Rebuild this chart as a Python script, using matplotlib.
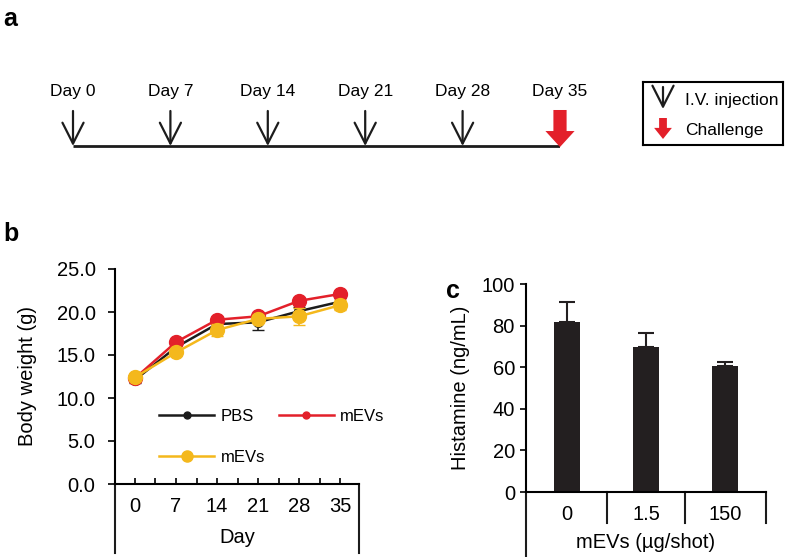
import matplotlib
matplotlib.use("Agg")
import matplotlib.pyplot as plt
from matplotlib.lines import Line2D

plt.rcParams["font.family"] = ["Liberation Sans", "DejaVu Sans"]

# panel a: schedule
schedule_days = [0, 7, 14, 21, 28, 35]
schedule_labels = ["Day 0", "Day 7", "Day 14", "Day 21", "Day 28", "Day 35"]

# panel b: body weight (g)
days = [0, 7, 14, 21, 28, 35]
pbs = [12.1, 15.9, 18.6, 18.8, 20.1, 21.2]
pbs_err = [0.3, 0.3, 0.4, 0.9, 0.5, 0.4]
mevs_red = [12.3, 16.5, 19.1, 19.5, 21.3, 22.1]
mevs_red_err = [0.2, 0.2, 0.3, 0.3, 0.3, 0.3]
mevs_yel = [12.4, 15.3, 17.9, 19.2, 19.5, 20.8]
mevs_yel_err = [0.3, 0.3, 0.7, 0.5, 1.0, 0.6]

# panel c: histamine (ng/mL)
doses = ["0", "1.5", "150"]
histamine = [81.7, 69.7, 60.6]
histamine_err = [9.6, 6.7, 1.9]

RED = "#e3202a"
YEL = "#f4b81c"
BLK = "#1c1c1c"

fig = plt.figure(figsize=(8, 5.57), dpi=100)

fig.text(0.004, 0.966, "a", fontsize=18, fontweight="bold", va="center")
fig.text(0.004, 0.580, "b", fontsize=18, fontweight="bold", va="center")
fig.text(0.558, 0.477, "c", fontsize=18, fontweight="bold", va="center")

# ---- panel a: timeline
ax_a = fig.add_axes([0.09125, 0.7307, 0.60875, 0.1257])
ax_a.set_xlim(0, 35)
ax_a.set_ylim(150, 80)
ax_a.axis("off")
ax_a.plot([schedule_days[0], schedule_days[-1]], [146, 146], color=BLK, lw=2, solid_capstyle="butt")
for d, lab in zip(schedule_days, schedule_labels):
    ax_a.text(d, 92, lab, ha="center", va="center", fontsize=12.5)
    if d == schedule_days[-1]:
        ax_a.annotate("", xy=(d, 147), xytext=(d, 110),
                      arrowprops=dict(arrowstyle="simple,head_length=1.15,head_width=2.1,tail_width=0.95",
                                      mutation_scale=10, color=RED, shrinkA=0, shrinkB=0, lw=0))
    else:
        ax_a.annotate("", xy=(d, 146), xytext=(d, 111),
                      arrowprops=dict(arrowstyle="->,head_length=0.75,head_width=0.38",
                                      mutation_scale=20, color=BLK, lw=1.6, shrinkA=0, shrinkB=0))

# legend box for panel a
ax_k = fig.add_axes([643 / 800, 1 - 145 / 557, 140 / 800, 63 / 557])
ax_k.set_xlim(0, 140)
ax_k.set_ylim(63, 0)
ax_k.set_xticks([])
ax_k.set_yticks([])
for s in ax_k.spines.values():
    s.set_linewidth(1.5)
ax_k.annotate("", xy=(20, 27), xytext=(20, 5),
              arrowprops=dict(arrowstyle="->,head_length=0.75,head_width=0.38",
                              mutation_scale=20, color=BLK, lw=1.6, shrinkA=0, shrinkB=0))
ax_k.annotate("", xy=(20, 57), xytext=(20, 36),
              arrowprops=dict(arrowstyle="simple,head_length=1.0,head_width=1.6,tail_width=0.7",
                              mutation_scale=8, color=RED, shrinkA=0, shrinkB=0, lw=0))
ax_k.text(42, 19, "I.V. injection", va="center", fontsize=12.5)
ax_k.text(42, 49, "Challenge", va="center", fontsize=12.5)

# ---- panel b: body weight
ax_b = fig.add_axes([115 / 800, 1 - 484 / 557, 244 / 800, 215 / 557])
ax_b.errorbar(days, pbs, yerr=pbs_err, color=BLK, lw=1.8, marker="o", ms=7,
              capsize=4, elinewidth=1.2, zorder=3)
ax_b.errorbar(days, mevs_red, yerr=mevs_red_err, color=RED, lw=1.8, marker="o", ms=10,
              capsize=4, elinewidth=1.2, zorder=4)
ax_b.errorbar(days, mevs_yel, yerr=mevs_yel_err, color=YEL, lw=1.8, marker="o", ms=10,
              capsize=4, elinewidth=1.2, zorder=5)
ax_b.set_xlim(-3.4, 38.2)
ax_b.set_ylim(0, 25)
ax_b.set_yticks([0, 5, 10, 15, 20, 25])
ax_b.set_yticklabels([f"{v:.1f}" for v in [0, 5, 10, 15, 20, 25]])
ax_b.set_xticks(days)
ax_b.set_xticks([d + 3.5 for d in days[:-1]], minor=True)
ax_b.tick_params(axis="y", direction="out", length=5, width=1.2, labelsize=14.5, pad=9)
ax_b.tick_params(axis="x", which="both", direction="in", length=4, width=1.2, labelsize=14.5, pad=9)
ax_b.spines["top"].set_visible(False)
ax_b.spines["right"].set_visible(False)
for s in ["left", "bottom"]:
    ax_b.spines[s].set_linewidth(1.5)
ax_b.set_ylabel("Body weight (g)", fontsize=14.5, labelpad=14)
ax_b.set_xlabel("Day", fontsize=14.5, labelpad=9)
for xa in [0, 1]:
    ax_b.plot([xa, xa], [0, -0.32], transform=ax_b.transAxes, color=BLK, lw=1.5, clip_on=False)

handles = [
    Line2D([], [], color=BLK, lw=1.8, marker="o", ms=5),
    Line2D([], [], color=YEL, lw=1.8, marker="o", ms=8),
    Line2D([], [], color=RED, lw=1.8, marker="o", ms=5),
]
ax_b.legend(handles, ["PBS", "mEVs", "mEVs"], ncol=2, frameon=False, fontsize=12,
            loc="upper left", bbox_to_anchor=(0.12, 0.42), handlelength=3.3,
            handletextpad=0.4, columnspacing=0.8, labelspacing=1.55)

# ---- panel c: histamine
ax_c = fig.add_axes([526 / 800, 1 - 492 / 557, 240 / 800, 208 / 557])
pos = list(range(len(doses)))
ax_c.bar(pos, histamine, width=0.32, color="#231f20", zorder=2)
ax_c.errorbar(pos, histamine, yerr=[[0] * len(pos), histamine_err], fmt="none",
              ecolor="#231f20", elinewidth=1.5, capsize=6, capthick=1.5, zorder=1)
ax_c.set_xlim(-0.52, 2.52)
ax_c.set_ylim(0, 100)
ax_c.set_yticks([0, 20, 40, 60, 80, 100])
ax_c.set_xticks(pos)
ax_c.set_xticklabels(doses)
ax_c.tick_params(axis="y", direction="out", length=4, width=1.2, labelsize=14.5, pad=4)
ax_c.tick_params(axis="x", length=0, labelsize=14.5, pad=9)
ax_c.spines["top"].set_visible(False)
ax_c.spines["right"].set_visible(False)
for s in ["left", "bottom"]:
    ax_c.spines[s].set_linewidth(1.5)
ax_c.set_ylabel("Histamine (ng/mL)", fontsize=14.5, labelpad=8)
ax_c.set_xlabel("mEVs (\u00b5g/shot)", fontsize=14.5, labelpad=7)
ax_c.plot([0, 0], [0, -0.31], transform=ax_c.transAxes, color=BLK, lw=1.5, clip_on=False)
for sep in [0.5, 1.5, 2.52]:
    ax_c.plot([sep, sep], [0, -0.15], transform=ax_c.get_xaxis_transform(), color=BLK,
              lw=1.5, clip_on=False)

fig.savefig("out.png", dpi=100)
